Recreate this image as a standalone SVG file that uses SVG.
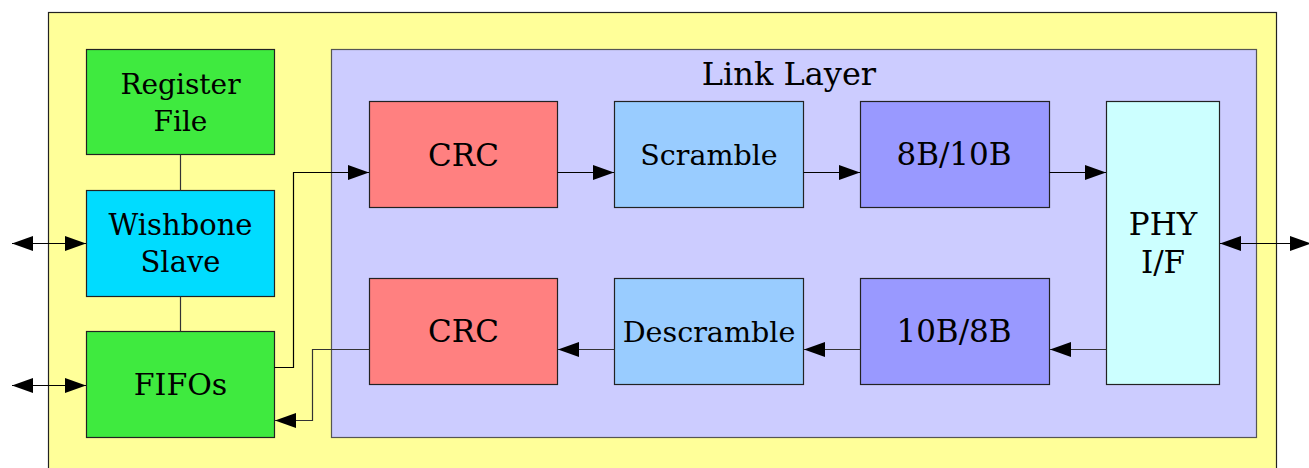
<svg xmlns="http://www.w3.org/2000/svg" width="1309" height="468" viewBox="0 0 1309 468">
<defs>
<style>
.box{stroke:#222;stroke-width:1.2}
.t{font-family:"DejaVu Serif",serif;font-size:29px;fill:#000;text-anchor:middle}
.k{font-size:31px}
.c{fill:none;stroke:#000;stroke-width:1.2}
.g{fill:none;stroke:#333;stroke-width:1.2}
</style>
<marker id="ah" markerUnits="userSpaceOnUse" markerWidth="22" markerHeight="16" refX="21" refY="7.5" orient="auto-start-reverse" viewBox="0 0 22 16">
<path d="M0,0 L21,7.5 L0,15 Z" fill="#000"/>
</marker>
</defs>
<rect width="1309" height="468" fill="#fff"/>
<g id="outer"><rect x="48.5" y="12.5" width="1228" height="470" fill="#ffff99" stroke="#222" stroke-width="1.2"/></g>
<g id="link-layer"><rect x="331.5" y="49.5" width="925" height="388" fill="#ccccff" stroke="#555" stroke-width="1.2"/>
<text class="t" x="789" y="85" style="font-size:32px">Link Layer</text></g>
<g id="register-file"><rect class="box" x="86.5" y="49.5" width="188" height="105" fill="#3fea3f"/>
<text class="t" x="180.5" y="94" style="font-size:28px">Register</text><text class="t" x="180.5" y="131" style="font-size:28px">File</text></g>
<g id="wishbone-slave"><rect class="box" x="86.5" y="190.5" width="188" height="106" fill="#00dcff"/>
<text class="t" x="180.5" y="235">Wishbone</text><text class="t" x="180.5" y="272">Slave</text></g>
<g id="fifos"><rect class="box" x="86.5" y="331.5" width="188" height="106" fill="#3fea3f"/>
<text class="t" x="180.5" y="395" style="font-size:30px">FIFOs</text></g>
<g id="crc-tx"><rect class="box" x="369.5" y="101.5" width="188" height="106" fill="#ff8080"/>
<text class="t k" x="463.5" y="166">CRC</text></g>
<g id="scramble"><rect class="box" x="614.5" y="101.5" width="189" height="106" fill="#99ccff"/>
<text class="t" x="709" y="165" style="font-size:28.5px">Scramble</text></g>
<g id="enc-8b10b"><rect class="box" x="860.5" y="101.5" width="189" height="106" fill="#9999ff"/>
<text class="t k" x="954" y="165">8B/10B</text></g>
<g id="phy-if"><rect class="box" x="1106.5" y="101.5" width="113" height="283" fill="#ccffff"/>
<text class="t k" x="1163" y="235">PHY</text><text class="t k" x="1163" y="273">I/F</text></g>
<g id="crc-rx"><rect class="box" x="369.5" y="278.5" width="188" height="106" fill="#ff8080"/>
<text class="t k" x="463.5" y="342">CRC</text></g>
<g id="descramble"><rect class="box" x="614.5" y="278.5" width="189" height="106" fill="#99ccff"/>
<text class="t" x="709" y="342" style="font-size:28.6px">Descramble</text></g>
<g id="dec-10b8b"><rect class="box" x="860.5" y="278.5" width="189" height="106" fill="#9999ff"/>
<text class="t k" x="954" y="342">10B/8B</text></g>
<g id="connectors">
<path class="g" d="M180.5,154.5 V190.5 M180.5,296.5 V331.5"/>
<path class="c" d="M12,243.5 H86" marker-start="url(#ah)" marker-end="url(#ah)"/>
<path class="c" d="M12,385.5 H86" marker-start="url(#ah)" marker-end="url(#ah)"/>
<path class="c" d="M1220,243.5 H1311" marker-start="url(#ah)" marker-end="url(#ah)"/>
<path class="c" d="M274.5,367.5 H293.5 V172.5 H369" marker-end="url(#ah)"/>
<path class="g" d="M369.5,349.5 H312.5 V420.5 H275" marker-end="url(#ah)"/>
<path class="c" d="M557.5,172.5 H614" marker-end="url(#ah)"/>
<path class="c" d="M803.5,172.5 H860" marker-end="url(#ah)"/>
<path class="c" d="M1049.5,172.5 H1106" marker-end="url(#ah)"/>
<path class="g" d="M1106.5,349.5 H1050" marker-end="url(#ah)"/>
<path class="g" d="M860.5,349.5 H804" marker-end="url(#ah)"/>
<path class="g" d="M614.5,349.5 H558" marker-end="url(#ah)"/>
</g>
</svg>
